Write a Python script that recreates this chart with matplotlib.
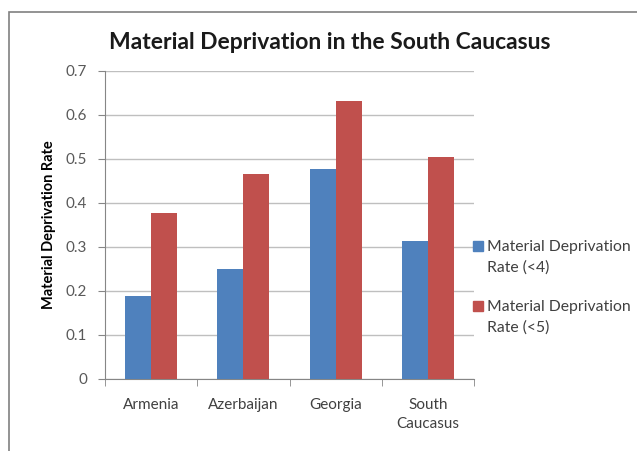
import matplotlib.pyplot as plt
import numpy as np
from matplotlib.patches import Rectangle

plt.rcParams['font.family'] = ['Lato', 'DejaVu Sans']

countries = ['Armenia', 'Azerbaijan', 'Georgia', 'South\nCaucasus']
rate_lt4 = [0.189, 0.25, 0.477, 0.314]
rate_lt5 = [0.377, 0.466, 0.632, 0.505]
series_names = ['Material Deprivation\nRate (<4)', 'Material Deprivation\nRate (<5)']
series_colors = ['#4F81BD', '#C0504D']
yticks = [0, 0.1, 0.2, 0.3, 0.4, 0.5, 0.6, 0.7]

W, H = 637, 451
fig = plt.figure(figsize=(W / 100, H / 100), dpi=100)
ax = fig.add_axes([0.165, 0.160, 0.579, 0.683])

x = np.arange(len(countries))
w = 0.282
ax.bar(x - w / 2, rate_lt4, w, color=series_colors[0], zorder=3)
ax.bar(x + w / 2, rate_lt5, w, color=series_colors[1], zorder=3)

ax.set_xlim(-0.5, len(countries) - 0.5)
ax.set_ylim(0, 0.7)
ax.set_yticks(yticks)
ax.set_yticklabels([f'{v:g}' for v in yticks])
ax.yaxis.grid(True, color='#BFBFBF', linewidth=1.0, zorder=0)

# category labels centred, tick marks on category boundaries
ax.set_xticks(x)
ax.set_xticklabels(countries, fontsize=11, color='#404040', linespacing=1.45)
ax.tick_params(axis='x', length=0, pad=14)
ax.set_xticks(np.arange(-0.5, len(countries)), minor=True)
ax.tick_params(axis='x', which='minor', length=5, color='#868686', direction='out')
ax.tick_params(axis='y', length=5, color='#868686', labelsize=11,
               labelcolor='#595959', pad=8)

for s in ['top', 'right']:
    ax.spines[s].set_visible(False)
for s in ['left', 'bottom']:
    ax.spines[s].set_color('#868686')

ax.set_ylabel('Material Deprivation Rate', fontsize=10.5, fontweight='bold',
              labelpad=7)
fig.text(0.518, 0.905, 'Material Deprivation in the South Caucasus',
         ha='center', va='center', fontsize=16.5, fontweight='bold',
         color='#1a1a1a')

# legend: square marker next to the first line of each two-line label
for i, (name, col) in enumerate(zip(series_names, series_colors)):
    y_top = 240 + i * 60
    fig.patches.append(Rectangle((473 / W, 1 - (y_top + 11) / H), 10 / W, 10 / H,
                                 transform=fig.transFigure, color=col))
    fig.text(487 / W, 1 - y_top / H, name, ha='left', va='top',
             fontsize=11.3, color='#404040', linespacing=1.6)

# chart area frame
fig.patches.append(Rectangle((9 / W, -0.1), 1.2, 1 - 12 / H + 0.1,
                             transform=fig.transFigure, fill=False,
                             edgecolor='#808080', linewidth=1.2))

fig.savefig('out.png', dpi=100)
